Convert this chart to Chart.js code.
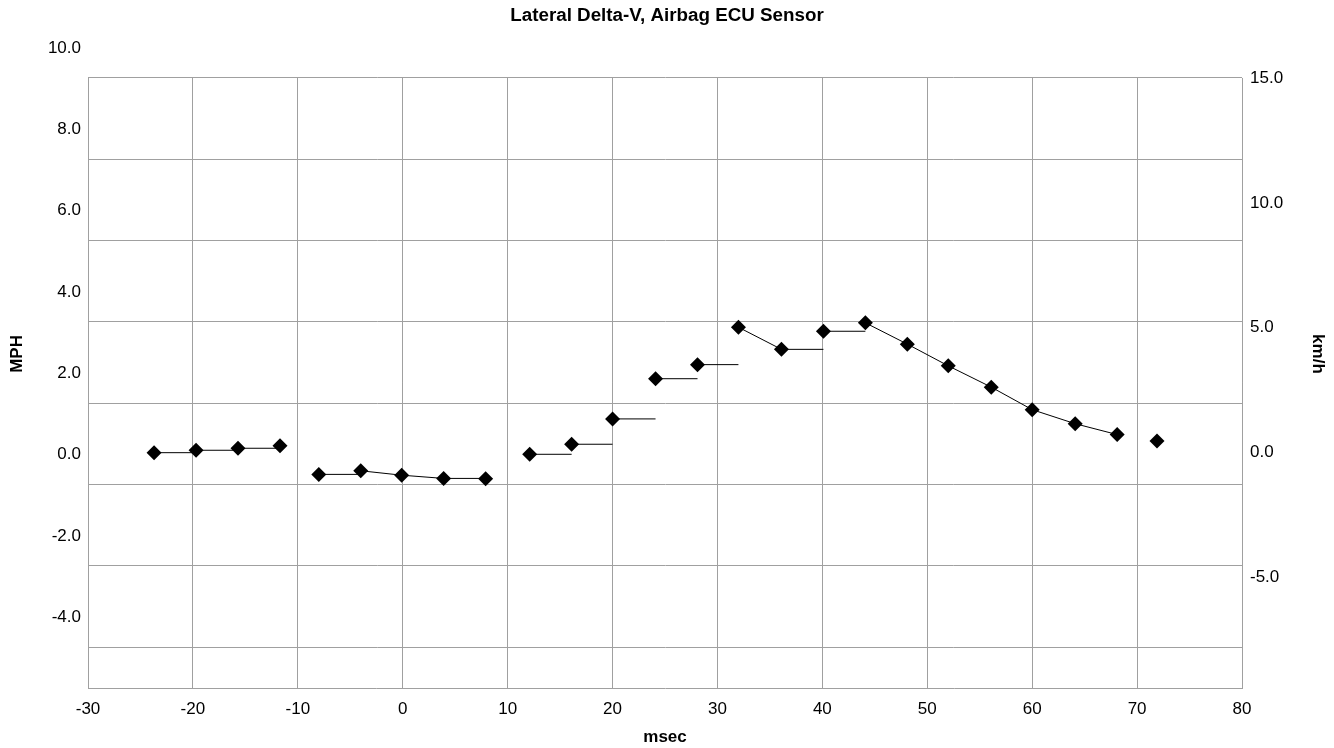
<!DOCTYPE html>
<html lang="en">
<head>
    <meta charset="UTF-8">
    <title>Lateral Delta-V, Airbag ECU Sensor</title>
    <script src="https://cdn.jsdelivr.net/npm/chart.js@4.4.2/dist/chart.umd.min.js"></script>
    <style>
        body { margin: 0; background: #ffffff; }
        #wrap { width: 1334px; height: 748px; position: relative; }
    </style>
</head>
<body>
    <div id="wrap"><canvas id="dvChart"></canvas></div>

    <script>
        // Sample times (msec) and lateral delta-V (mph)
        const timesMs = [-23.7, -19.7, -15.7, -11.7, -8.0, -4.0, -0.1, 3.9, 7.9, 12.1, 16.1, 20.0,
                         24.1, 28.1, 32.0, 36.1, 40.1, 44.1, 48.1, 52.0, 56.1, 60.0, 64.1, 68.1, 71.9];
        const deltaVMph = [0.00, 0.06, 0.11, 0.17, -0.54, -0.45, -0.56, -0.64, -0.65, -0.04, 0.21, 0.84,
                           1.84, 2.19, 3.12, 2.57, 3.02, 3.23, 2.70, 2.16, 1.63, 1.07, 0.72, 0.45, 0.29];
        // how each sample joins the next one: h = hold level, s = straight line, '' = no line
        const joinKind = ['h', 'h', 'h', '', 'h', 's', 's', 'h', '', 'h', 'h', 'h',
                          'h', 'h', 's', 'h', 'h', 's', 's', 's', 's', 's', 's', ''];

        // axis ticks
        const xTicks = [-30, -20, -10, 0, 10, 20, 30, 40, 50, 60, 70, 80];
        const mphTicks = [10, 8, 6, 4, 2, 0, -2, -4];
        const kmhTicks = [15, 10, 5, 0, -5];
        const MPH_MIN = -5, MPH_MAX = 10;
        const KMH_MIN = -9.42, KMH_MAX = 15;
        const KMH_PER_MPH = 1.609344;

        const FONT = "'Liberation Sans', Arial, sans-serif";
        const GRID = '#a0a0a0';

        const markerPoints = timesMs.map((t, i) => ({ x: t, y: deltaVMph[i] }));

        // line pieces between the samples, broken by null points
        const linePoints = [];
        joinKind.forEach((k, i) => {
            if (!k) return;
            const yEnd = k === 'h' ? deltaVMph[i] : deltaVMph[i + 1];
            linePoints.push({ x: timesMs[i], y: deltaVMph[i] });
            linePoints.push({ x: timesMs[i + 1], y: yEnd });
            linePoints.push({ x: timesMs[i + 1], y: null });
        });

        // vertical axis titles sit a bit above the middle of the plot
        const sideTitles = {
            id: 'sideTitles',
            afterDraw(chart) {
                const ctx = chart.ctx;
                const yMid = chart.chartArea.top + 276;
                ctx.save();
                ctx.font = 'bold 17px ' + FONT;
                ctx.fillStyle = '#000';
                ctx.textAlign = 'center';
                ctx.textBaseline = 'middle';
                ctx.translate(17, yMid);
                ctx.rotate(-Math.PI / 2);
                ctx.fillText('MPH', 0, 0);
                ctx.restore();
                ctx.save();
                ctx.font = 'bold 17px ' + FONT;
                ctx.fillStyle = '#000';
                ctx.textAlign = 'center';
                ctx.textBaseline = 'middle';
                ctx.translate(1318, yMid);
                ctx.rotate(Math.PI / 2);
                ctx.fillText('km/h', 0, 0);
                ctx.restore();
            }
        };

        const setTicks = (list) => (scale) => { scale.ticks = list.map(v => ({ value: v })); };

        new Chart(document.getElementById('dvChart'), {
            type: 'line',
            data: {
                datasets: [{
                    label: 'samples',
                    data: markerPoints,
                    yAxisID: 'v',
                    showLine: false,
                    pointStyle: 'rectRot',
                    pointRadius: 7.5,
                    pointBackgroundColor: '#000',
                    pointBorderColor: '#000',
                    pointBorderWidth: 0
                }, {
                    label: 'steps',
                    data: linePoints,
                    yAxisID: 'v',
                    borderColor: '#000',
                    borderWidth: 1,
                    pointRadius: 0,
                    spanGaps: false,
                    tension: 0
                }]
            },
            options: {
                responsive: true,
                maintainAspectRatio: false,
                animation: false,
                layout: { padding: 0 },
                plugins: {
                    legend: { display: false },
                    tooltip: { enabled: false },
                    title: {
                        display: true,
                        text: 'Lateral Delta-V, Airbag ECU Sensor',
                        color: '#000',
                        font: { family: FONT, size: 18.8, weight: 'bold' },
                        padding: { top: 4.7, bottom: 50.7 }
                    }
                },
                scales: {
                    x: {
                        type: 'linear',
                        min: -30,
                        max: 80,
                        afterBuildTicks: setTicks(xTicks),
                        grid: { color: GRID, lineWidth: 1, drawTicks: false },
                        border: { color: GRID },
                        ticks: { color: '#000', font: { family: FONT, size: 17 }, padding: 11 },
                        title: {
                            display: true,
                            text: 'msec',
                            color: '#000',
                            font: { family: FONT, size: 17, weight: 'bold' },
                            padding: { top: 0, bottom: 0 }
                        },
                        afterFit(scale) { scale.height = 60; }
                    },
                    y: {
                        type: 'linear',
                        position: 'left',
                        min: MPH_MIN,
                        max: MPH_MAX,
                        afterBuildTicks: setTicks(mphTicks),
                        grid: { color: GRID, lineWidth: 1, drawTicks: false },
                        border: { color: GRID },
                        ticks: {
                            color: '#000',
                            font: { family: FONT, size: 17 },
                            padding: 7,
                            labelOffset: -30,
                            callback: v => v.toFixed(1)
                        },
                        afterFit(scale) {
                            scale.width = 88;
                            scale.paddingTop = 0;
                            scale.paddingBottom = 0;
                        }
                    },
                    y2: {
                        type: 'linear',
                        position: 'right',
                        min: KMH_MIN,
                        max: KMH_MAX,
                        afterBuildTicks: setTicks(kmhTicks),
                        grid: { display: false, drawTicks: false },
                        border: { display: false },
                        ticks: {
                            color: '#000',
                            font: { family: FONT, size: 17 },
                            padding: 8,
                            callback: v => v.toFixed(1)
                        },
                        afterFit(scale) {
                            scale.width = 92;
                            scale.paddingTop = 0;
                            scale.paddingBottom = 0;
                        }
                    },
                    v: {
                        type: 'linear',
                        display: false,
                        min: KMH_MIN / KMH_PER_MPH,
                        max: KMH_MAX / KMH_PER_MPH
                    }
                }
            },
            plugins: [sideTitles]
        });
    </script>
</body>
</html>
